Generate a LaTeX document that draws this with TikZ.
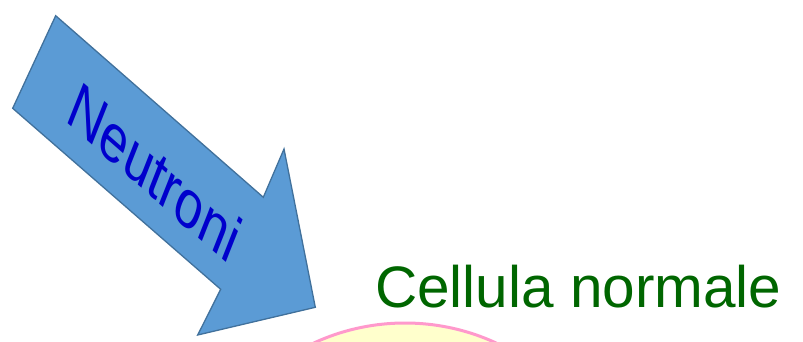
\documentclass[tikz,border=0pt]{standalone}
\usepackage{fontspec}
\setmainfont{Liberation Sans}
\usepackage{tikz}
\usetikzlibrary{calc}
\definecolor{ArrowBlue}{HTML}{5B9BD5}
\definecolor{ArrowEdge}{HTML}{41719C}
\definecolor{TextBlue}{HTML}{0000CC}
\definecolor{CellGreen}{HTML}{006600}
\definecolor{CellPink}{HTML}{FF99CC}
\definecolor{CellYellow}{HTML}{FFFFCC}

\begin{document}
\begin{tikzpicture}[x=1pt,y=-1pt,
  arrowlabel/.style={text=TextBlue,font=\fontsize{58}{58}\selectfont,inner sep=0pt},
  celllabel/.style={text=CellGreen,font=\fontsize{58.5}{58.5}\selectfont,inner sep=0pt,anchor=base west}]
  \clip (0,0) rectangle (803,342);
  % big arrow pointing down to the cell
  \coordinate (tailtop) at (55.7,15.7);
  \coordinate (tailbot) at (12.7,108.3);
  \coordinate (notchbot) at (220.7,289.3);
  \coordinate (headbot) at (197.7,335);
  \coordinate (tip) at (315.3,307.3);
  \coordinate (headtop) at (284,149);
  \coordinate (notchtop) at (263.3,197.3);
  \draw[ArrowEdge,fill=ArrowBlue,line width=1.3pt,line join=miter]
    (tailtop)--(notchtop)--(headtop)--(tip)--(headbot)--(notchbot)--(tailbot)--cycle;
  % label runs along the shaft, letters a little slanted
  \node[arrowlabel,cm={0.752,-0.658,0.40,1.01,(0,0)}] (neutroni) at (155,172) {Neutroni};

  % the cell, cut by the lower edge
  \draw[CellPink,fill=CellYellow,line width=3pt] (405,540) circle (217);
  \node[celllabel] (cellula) at (375,307) {Cellula normale};
\end{tikzpicture}
\end{document}
